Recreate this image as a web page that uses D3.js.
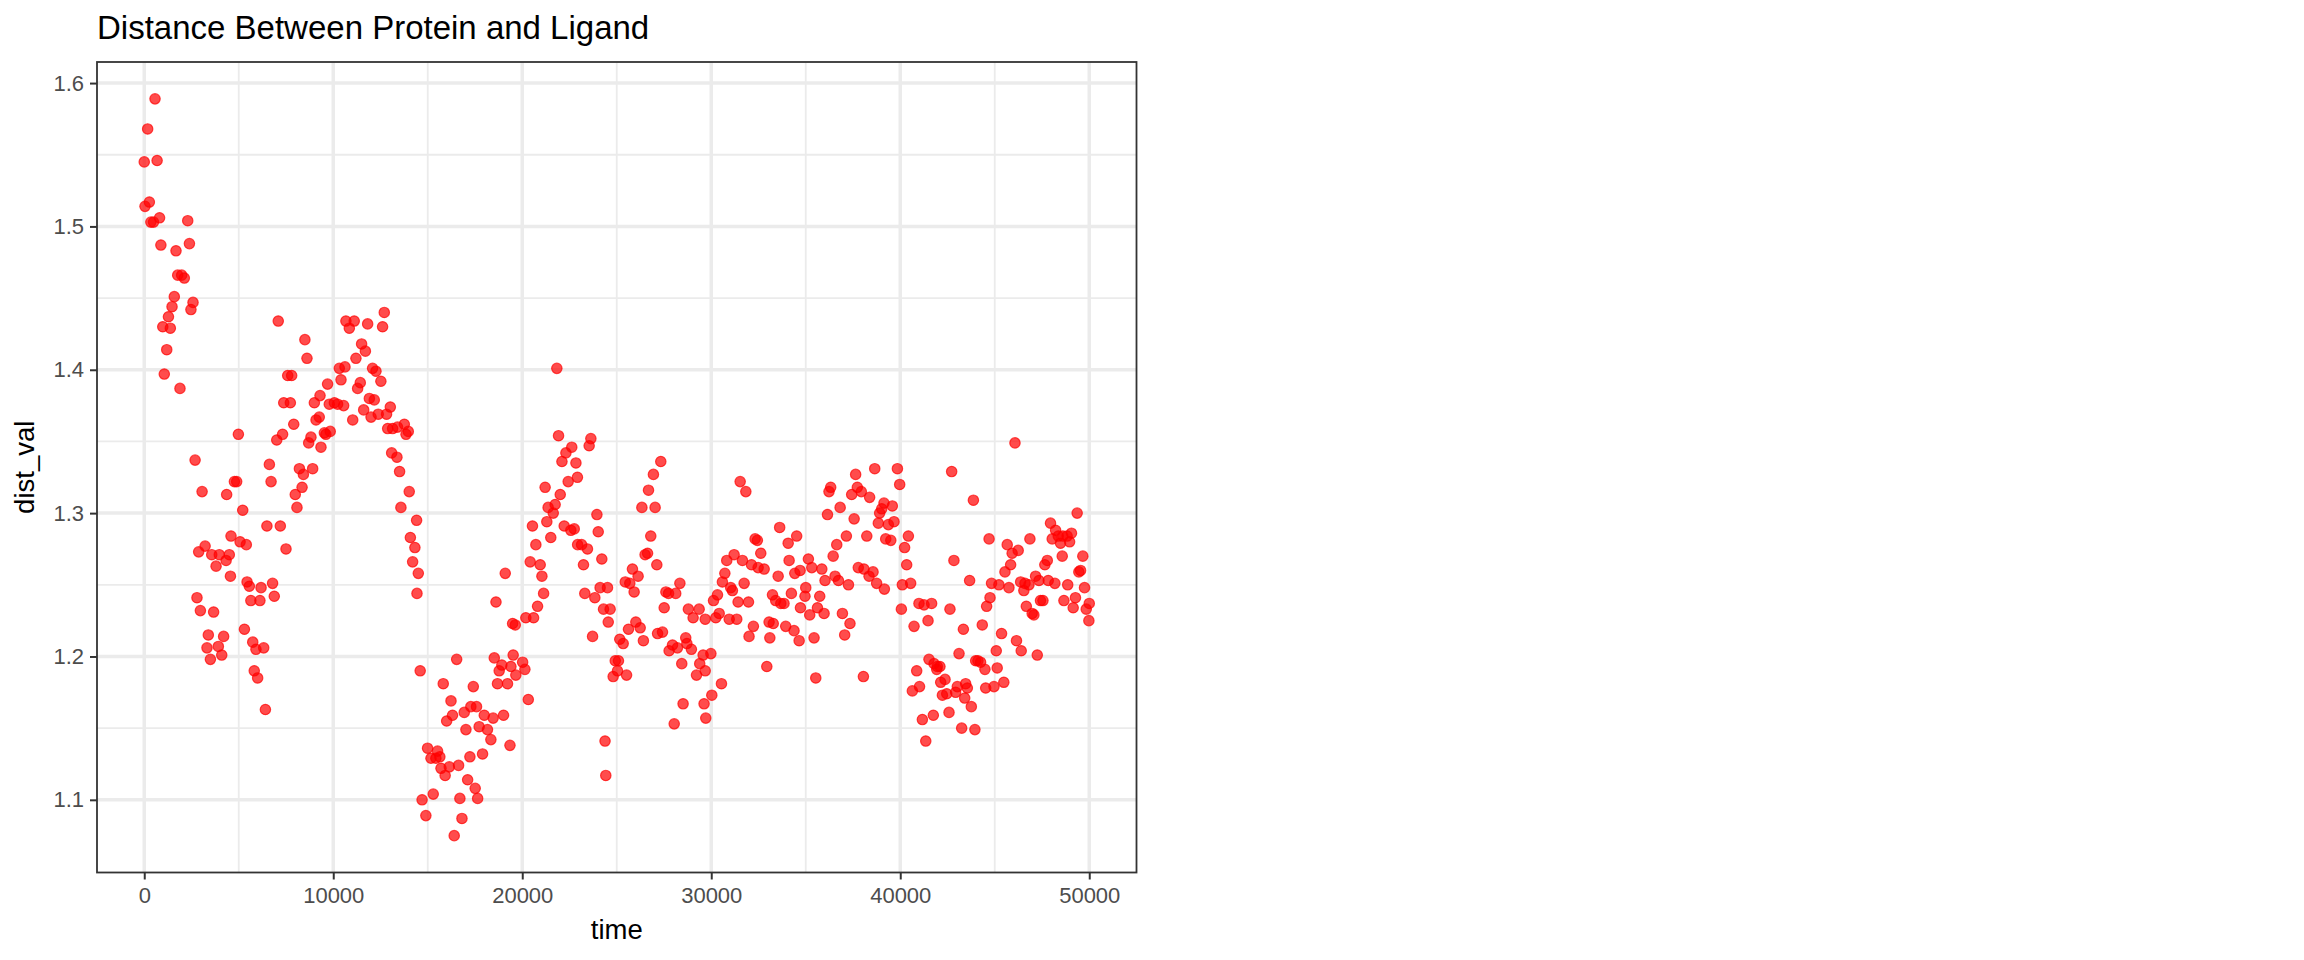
<!DOCTYPE html>
<html>
<head>
<meta charset="utf-8">
<script src="https://cdn.jsdelivr.net/npm/d3@7"></script>
<style>
  html, body { margin: 0; padding: 0; background: #ffffff; }
  svg { display: block; }
  text { font-family: "Liberation Sans", Arial, Helvetica, sans-serif; }
</style>
</head>
<body>
<svg id="chart" width="2304" height="960"></svg>
<script>
// ---- data: [time, dist_val] ----
const obs = [
  [0,1.545],[40,1.514],[180,1.568],[270,1.517],[350,1.503],[490,1.503],[570,1.589],[680,1.546],[810,1.506],[880,1.487],
  [980,1.430],[1060,1.397],[1190,1.414],[1280,1.437],[1380,1.429],[1470,1.444],[1590,1.451],[1680,1.483],[1770,1.466],[1890,1.387],
  [1980,1.466],[2120,1.464],[2300,1.504],[2390,1.488],[2470,1.442],[2580,1.447],[2690,1.337],[2790,1.241],[2880,1.273],[2970,1.232],
  [3060,1.315],[3220,1.277],[3320,1.206],[3390,1.215],[3500,1.198],[3570,1.271],[3670,1.231],[3800,1.263],[3920,1.207],[3970,1.271],
  [4100,1.201],[4200,1.214],[4330,1.267],[4360,1.313],[4500,1.271],[4560,1.256],[4590,1.284],
  [4770,1.322],[4890,1.322],[4980,1.355],[5070,1.280],[5210,1.302],[5300,1.219],[5400,1.278],[5440,1.252],[5560,1.249],[5640,1.239],
  [5740,1.210],[5820,1.190],[5910,1.205],[6000,1.185],[6120,1.239],[6180,1.248],[6320,1.206],[6410,1.163],[6490,1.291],[6620,1.334],
  [6710,1.322],[6790,1.251],[6880,1.242],[7010,1.351],[7090,1.434],[7200,1.291],[7320,1.355],[7380,1.377],[7500,1.275],[7590,1.396],
  [7730,1.377],[7800,1.396],[7910,1.362],[7990,1.313],[8080,1.304],[8210,1.331],[8350,1.318],[8420,1.327],[8500,1.421],[8610,1.408],
  [8700,1.349],[8820,1.353],[8910,1.331],[9000,1.377],[9090,1.365],[9260,1.367],[9300,1.382],[9350,1.346],
  [9530,1.356],[9610,1.355],[9700,1.390],[9790,1.376],[9840,1.357],[10060,1.377],[10230,1.376],[10320,1.401],[10410,1.393],[10550,1.375],
  [10620,1.402],[10670,1.434],[10850,1.429],[11030,1.365],[11110,1.434],[11200,1.408],[11290,1.387],[11430,1.391],[11500,1.418],[11610,1.372],
  [11700,1.413],[11820,1.432],[11910,1.380],[12000,1.367],[12080,1.401],[12170,1.379],[12260,1.399],[12380,1.369],[12520,1.392],[12610,1.430],
  [12700,1.440],[12820,1.369],[12880,1.359],[13020,1.374],[13090,1.342],[13140,1.359],[13370,1.339],[13400,1.360],[13510,1.329],[13580,1.304],
  [13760,1.362],[13850,1.355],[13970,1.357],[14020,1.315],[14080,1.283],[14200,1.266],[14320,1.276],[14410,1.295],[14430,1.244],[14500,1.258],
  [14600,1.190],
  [14700,1.100],[14900,1.089],[14990,1.136],[15170,1.129],[15290,1.104],[15430,1.129],[15520,1.134],[15640,1.130],[15700,1.122],[15820,1.181],
  [15920,1.117],[16000,1.155],[16140,1.123],[16230,1.169],[16310,1.159],[16400,1.075],[16530,1.198],[16630,1.124],[16700,1.101],[16810,1.087],
  [16930,1.161],[17020,1.149],[17110,1.114],[17230,1.130],[17280,1.165],[17410,1.179],[17510,1.108],[17580,1.165],[17640,1.101],[17720,1.151],
  [17900,1.132],[17990,1.159],[18160,1.149],[18340,1.142],[18460,1.157],[18520,1.199],[18610,1.238],[18690,1.181],[18780,1.190],[18920,1.194],
  [19010,1.159],[19100,1.258],[19220,1.181],[19350,1.138],[19400,1.193],[19490,1.223],[19520,1.201],[19630,1.222],[19660,1.187],
  [20020,1.196],[20140,1.191],[20190,1.227],[20320,1.170],[20420,1.266],[20540,1.291],[20600,1.227],[20720,1.278],[20810,1.235],[20950,1.264],
  [21040,1.256],[21130,1.244],[21210,1.318],[21300,1.294],[21370,1.304],[21510,1.283],[21640,1.300],[21740,1.306],[21830,1.401],[21920,1.354],
  [22010,1.313],[22100,1.336],[22220,1.291],[22310,1.342],[22430,1.322],[22570,1.288],[22620,1.346],[22750,1.289],[22840,1.335],[22920,1.325],
  [22930,1.278],[23140,1.278],[23240,1.264],[23310,1.244],[23450,1.275],[23540,1.347],[23630,1.352],[23720,1.214],[23840,1.241],[23950,1.299],
  [24020,1.287],[24120,1.248],[24210,1.268],[24300,1.233],[24380,1.141],[24420,1.117],[24550,1.224],[24650,1.233],
  [24510,1.248],[24810,1.186],[24920,1.197],[25040,1.190],[25090,1.197],[25160,1.212],[25340,1.209],[25450,1.252],[25520,1.187],[25620,1.219],
  [25690,1.251],[25830,1.261],[25920,1.245],[26010,1.224],[26130,1.256],[26240,1.220],[26330,1.304],[26410,1.211],[26500,1.271],[26630,1.272],
  [26680,1.316],[26800,1.284],[26940,1.327],[27030,1.304],[27120,1.264],[27160,1.216],[27330,1.336],[27420,1.217],[27510,1.234],[27600,1.245],
  [27740,1.244],[27770,1.204],[27950,1.208],[28040,1.153],[28120,1.244],[28210,1.206],[28340,1.251],[28440,1.195],[28510,1.167],[28650,1.213],
  [28710,1.209],[28790,1.233],[28950,1.205],[29040,1.227],[29220,1.187],[29360,1.233],[29390,1.195],[29570,1.201],[29620,1.167],[29680,1.226],
  [29680,1.190],
  [29710,1.157],[29980,1.202],[30030,1.173],[30120,1.239],[30240,1.227],[30330,1.243],[30420,1.230],[30540,1.181],[30590,1.252],[30720,1.258],
  [30820,1.267],[30950,1.226],[31030,1.248],[31120,1.246],[31210,1.271],[31350,1.226],[31420,1.238],[31530,1.322],[31650,1.267],[31740,1.251],
  [31830,1.315],[31970,1.238],[32000,1.214],[32130,1.264],[32230,1.221],[32320,1.282],[32440,1.281],[32480,1.262],[32620,1.272],[32800,1.261],
  [32940,1.193],[33060,1.224],[33100,1.213],[33240,1.243],[33280,1.223],[33410,1.239],[33540,1.256],[33620,1.290],[33680,1.237],[33850,1.237],
  [33940,1.221],[34070,1.279],[34120,1.267],[34240,1.244],[34380,1.218],[34420,1.258],[34520,1.284],[34650,1.211],[34700,1.260],[34720,1.234],
  [34960,1.242],[35000,1.248],[35140,1.268],[35210,1.229],[35320,1.262],[35440,1.213],[35530,1.185],[35620,1.234],[35740,1.242],[35850,1.261],
  [35970,1.230],[36020,1.253],[36150,1.299],[36230,1.315],[36320,1.318],[36450,1.270],[36550,1.256],[36640,1.278],[36730,1.253],[36820,1.304],
  [36940,1.230],[37060,1.215],[37150,1.284],[37260,1.250],[37340,1.223],[37430,1.313],[37560,1.296],[37640,1.327],[37730,1.318],[37780,1.262],
  [37940,1.315],[38050,1.186],[38080,1.261],[38230,1.284],[38350,1.256],[38380,1.311],[38560,1.259],[38650,1.331],[38750,1.251],[38840,1.293],
  [38910,1.300],[39020,1.303],[39140,1.307],[39160,1.247],[39230,1.282],[39370,1.292],[39500,1.281],[39580,1.305],[39670,1.294],
  [39850,1.331],[39970,1.320],[40060,1.233],[40110,1.250],[40230,1.276],[40340,1.264],[40430,1.284],[40550,1.251],[40640,1.176],[40730,1.221],
  [40870,1.190],[40990,1.237],[41020,1.179],[41170,1.156],[41260,1.236],[41350,1.141],[41470,1.225],[41520,1.198],[41660,1.237],[41750,1.159],
  [41790,1.195],[41930,1.191],[41960,1.193],[42100,1.193],[42140,1.182],[42230,1.173],[42370,1.184],[42460,1.174],[42580,1.161],[42630,1.233],
  [42720,1.329],[42840,1.267],[42930,1.175],[43020,1.179],[43110,1.202],[43250,1.150],[43340,1.219],[43410,1.171],[43460,1.181],[43550,1.178],
  [43670,1.253],[43760,1.165],[43870,1.309],[43950,1.149],[43990,1.197],[44110,1.197],[44250,1.196],[44340,1.222],[44480,1.191],[44520,1.178],
  [44570,1.235],[44700,1.282],[44750,1.241],
  [44830,1.251],[44960,1.179],[45080,1.204],[45130,1.192],[45220,1.250],[45360,1.216],[45480,1.182],[45540,1.259],[45660,1.278],[45750,1.248],
  [45840,1.264],[45920,1.272],[46070,1.349],[46150,1.211],[46240,1.274],[46370,1.252],[46400,1.204],[46540,1.246],[46600,1.251],[46670,1.235],
  [46810,1.250],[46860,1.282],[46980,1.230],[47070,1.229],[47160,1.256],[47250,1.201],[47340,1.253],[47420,1.239],[47550,1.239],[47650,1.264],
  [47780,1.267],[47830,1.253],[47950,1.293],[48040,1.282],[48180,1.251],[48220,1.288],[48360,1.284],[48480,1.279],[48570,1.270],[48600,1.284],
  [48660,1.239],[48830,1.284],[48860,1.250],[48960,1.280],[49060,1.286],[49150,1.234],[49270,1.241],[49360,1.300],[49450,1.259],[49540,1.260],
  [49660,1.270],[49750,1.248],[49840,1.233],[49980,1.225],[50000,1.237]
];
const xTicks = [0, 10000, 20000, 30000, 40000, 50000];
const xMinor = [5000, 15000, 25000, 35000, 45000];
const yTicks = [1.1, 1.2, 1.3, 1.4, 1.5, 1.6];
const yMinor = [1.15, 1.25, 1.35, 1.45, 1.55];
const titleText = "Distance Between Protein and Ligand";
const xLabel = "time";
const yLabel = "dist_val";

// ---- layout ----
const P = { left: 97, right: 1136.5, top: 62, bottom: 872.5 };
const svg = d3.select("#chart");

function expand(ext) { const r = ext[1] - ext[0]; return [ext[0] - 0.05 * r, ext[1] + 0.05 * r]; }
const x = d3.scaleLinear().domain(expand(d3.extent(obs, d => d[0]))).range([P.left, P.right]);
const y = d3.scaleLinear().domain(expand(d3.extent(obs, d => d[1]))).range([P.bottom, P.top]);

const grid = svg.append("g");
// minor grid
grid.selectAll(".vmin").data(xMinor).join("line")
  .attr("x1", d => x(d)).attr("x2", d => x(d)).attr("y1", P.top).attr("y2", P.bottom)
  .attr("stroke", "#EBEBEB").attr("stroke-width", 1.8);
grid.selectAll(".hmin").data(yMinor).join("line")
  .attr("y1", d => y(d)).attr("y2", d => y(d)).attr("x1", P.left).attr("x2", P.right)
  .attr("stroke", "#EBEBEB").attr("stroke-width", 1.8);
// major grid
grid.selectAll(".vmaj").data(xTicks).join("line")
  .attr("x1", d => x(d)).attr("x2", d => x(d)).attr("y1", P.top).attr("y2", P.bottom)
  .attr("stroke", "#EBEBEB").attr("stroke-width", 3.5);
grid.selectAll(".hmaj").data(yTicks).join("line")
  .attr("y1", d => y(d)).attr("y2", d => y(d)).attr("x1", P.left).attr("x2", P.right)
  .attr("stroke", "#EBEBEB").attr("stroke-width", 3.5);

// points
svg.append("g").selectAll("circle").data(obs).join("circle")
  .attr("cx", d => x(d[0])).attr("cy", d => y(d[1])).attr("r", 5.2)
  .attr("fill", "#FF0000").attr("fill-opacity", 0.7)
  .attr("stroke", "#FF0000").attr("stroke-opacity", 0.7).attr("stroke-width", 1.2);

// panel border
svg.append("rect").attr("x", P.left).attr("y", P.top)
  .attr("width", P.right - P.left).attr("height", P.bottom - P.top)
  .attr("fill", "none").attr("stroke", "#333333").attr("stroke-width", 1.8);

// axes
const xAxis = d3.axisBottom(x).tickValues(xTicks).tickSize(7).tickPadding(8).tickFormat(d3.format("d"));
const yAxis = d3.axisLeft(y).tickValues(yTicks).tickSize(7).tickPadding(6).tickFormat(d3.format(".1f"));
const gx = svg.append("g").attr("transform", `translate(0,${P.bottom})`).call(xAxis);
const gy = svg.append("g").attr("transform", `translate(${P.left},0)`).call(yAxis);
[gx, gy].forEach(g => {
  g.select(".domain").remove();
  g.selectAll(".tick line").attr("stroke", "#333333").attr("stroke-width", 2);
  g.selectAll(".tick text").attr("fill", "#4D4D4D").style("font-size", "22px")
    .style("font-family", "'Liberation Sans', Arial, sans-serif");
});

// titles
svg.append("text").attr("x", P.left).attr("y", 39).text(titleText)
  .style("font-size", "33px").attr("fill", "#000");
svg.append("text").attr("x", (P.left + P.right) / 2).attr("y", 939).attr("text-anchor", "middle")
  .text(xLabel).style("font-size", "27.5px").attr("fill", "#000");
svg.append("text").attr("transform", `translate(34,${(P.top + P.bottom) / 2}) rotate(-90)`)
  .attr("text-anchor", "middle").text(yLabel).style("font-size", "27.5px").attr("fill", "#000");
</script>
</body>
</html>
